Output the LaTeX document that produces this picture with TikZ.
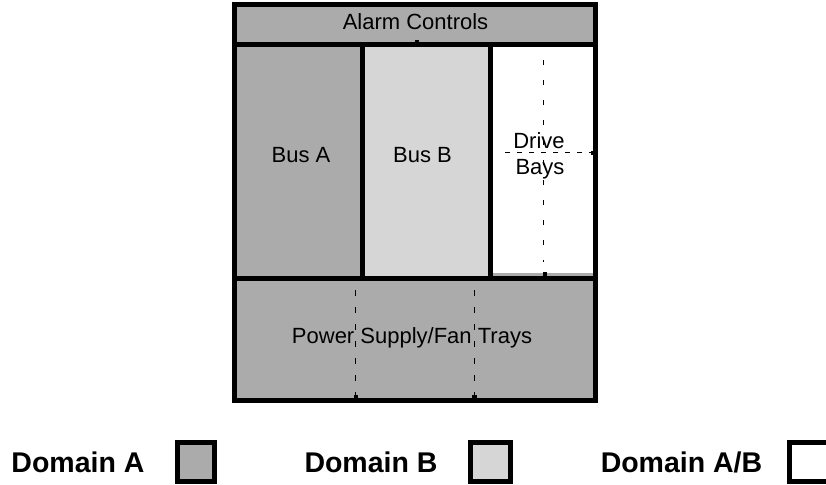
\documentclass[tikz,border=0pt]{standalone}
\usepackage{fontspec}
\setmainfont{Liberation Sans}
\begin{document}
\begin{tikzpicture}[x=1pt,y=-1pt,
  domA/.style={fill=black!33},
  domB/.style={fill=black!16},
  wall/.style={line width=5pt,line cap=rect},
  lbl/.style={inner sep=0pt,anchor=base,font=\fontsize{22}{25}\selectfont},
  leg/.style={inner sep=0pt,anchor=base,font=\fontsize{28.5}{32}\selectfont\bfseries},
  tick/.style={fill=black},
  dashA/.style={line width=0.9pt,dash pattern=on 5pt off 15pt},
  dashB/.style={line width=0.9pt,dash pattern=on 5pt off 7pt},
  dashC/.style={line width=0.9pt,dash pattern=on 6pt off 11pt}]
\useasboundingbox (0,0) rectangle (826,484);
\clip (0,0) rectangle (826,484);
% fills
\fill[domA] (234.5,4.5) rectangle (595.5,45);
\fill[domA] (234.5,45) rectangle (362.5,278);
\fill[domB] (362.5,45) rectangle (490,278);
\fill[domA] (490,45) rectangle (595.5,278);
\fill[white] (490,45) rectangle (593,272.5);
\fill[domA] (234.5,278) rectangle (595.5,400);
% walls
\coordinate (tl) at (234.5,4.5);
\coordinate (br) at (595.5,400);
\draw[wall] (tl) rectangle (br);
\coordinate (s1l) at (234.5,45);   \coordinate (s1r) at (595.5,45);
\coordinate (s2l) at (234.5,278);  \coordinate (s2r) at (595.5,278);
\coordinate (v1t) at (362.5,45);   \coordinate (v1b) at (362.5,278);
\coordinate (v2t) at (490,45);     \coordinate (v2b) at (490,278);
\draw[wall] (s1l) -- (s1r);
\draw[wall] (s2l) -- (s2r);
\draw[wall] (v1t) -- (v1b);
\draw[wall] (v2t) -- (v2b);
% labels
\node[lbl] (alarm) at (415.5,30) {Alarm Controls};
\node[lbl] (busa) at (301,162) {Bus A};
\node[lbl] (busb) at (422.5,162) {Bus B};
\node[lbl] (drive) at (539,148) {Drive};
\node[lbl] (bays) at (540,174) {Bays};
\node[lbl] (power) at (412,343) {Power Supply/Fan Trays};
% dashed marks
\coordinate (dvt) at (543.5,60);  \coordinate (dvb) at (543.5,262);
\coordinate (dhl) at (505,152.5); \coordinate (dhr) at (591,152.5);
\coordinate (p1t) at (355.5,290); \coordinate (p1b) at (355.5,395);
\coordinate (p2t) at (474,290);   \coordinate (p2b) at (474,395);
\draw[dashA] (dvt) -- (dvb);
\draw[dashB] (dhl) -- (dhr);
\draw[dashC] (p1t) -- (p1b);
\draw[dashC] (p2t) -- (p2b);
% small ticks
\fill[tick] (415,40) rectangle (419,43);
\fill[tick] (542.5,272) rectangle (547,276);
\fill[tick] (591,151) rectangle (595,155);
\fill[tick] (354,395) rectangle (358,398.5);
\fill[tick] (472,395) rectangle (477,398.5);
% legend
\node[leg] (la) at (78,472) {Domain A};
\node[leg] (lb) at (371,472) {Domain B};
\node[leg] (lab) at (681.5,472) {Domain A/B};
\draw[wall,domA] (177.5,442.5) rectangle (214.5,481.5);
\draw[wall,domB] (470.5,442.5) rectangle (510.5,481.5);
\draw[wall,fill=white] (789.5,442.5) rectangle (850,481.5);
\end{tikzpicture}
\end{document}
